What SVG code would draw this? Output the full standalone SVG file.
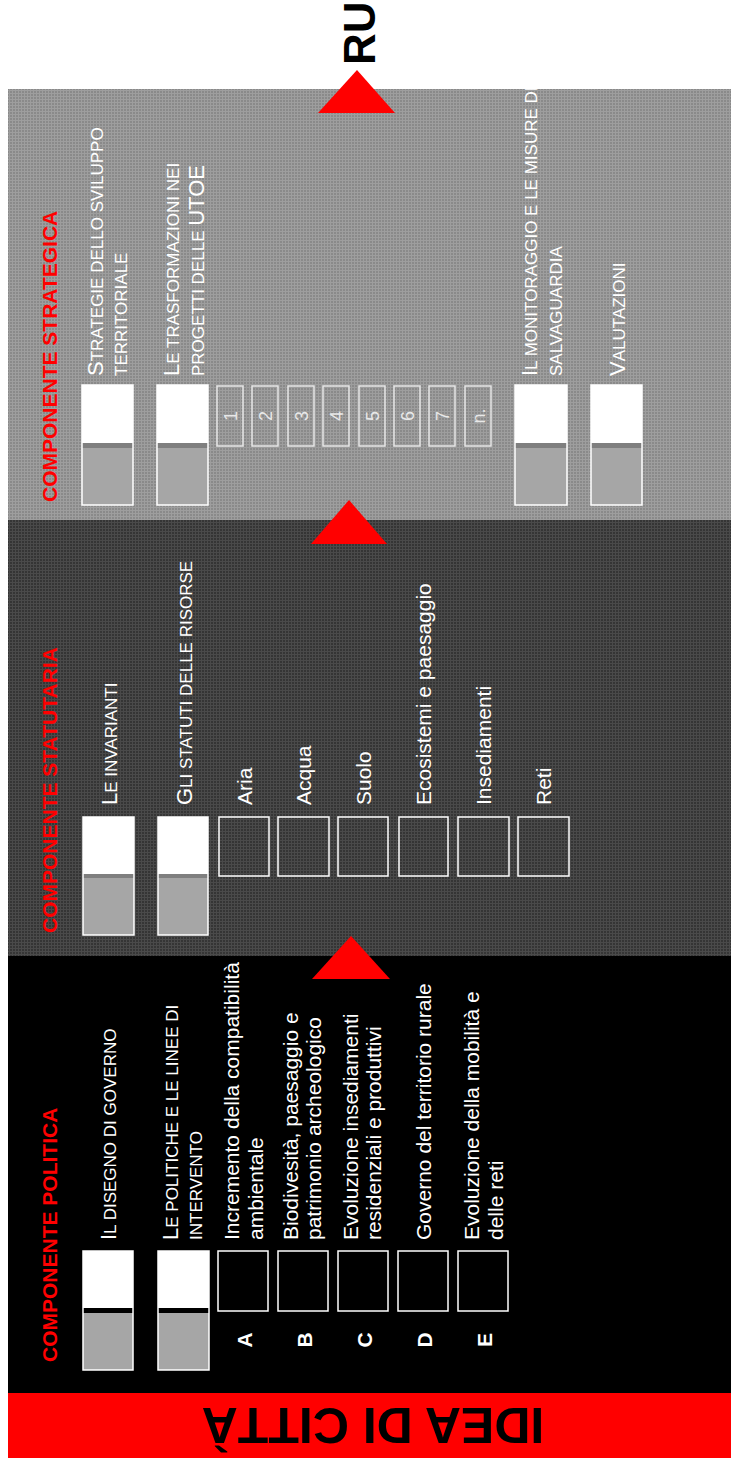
<svg xmlns="http://www.w3.org/2000/svg" width="731" height="1458" viewBox="0 0 731 1458">
<defs>
<pattern id="texL" width="3" height="3" patternUnits="userSpaceOnUse"><rect width="3" height="3" fill="#8a8a8a"/><rect width="3" height="1" fill="#9e9e9e"/><rect width="1" height="3" fill="#9e9e9e"/></pattern>
<pattern id="texD" width="3" height="3" patternUnits="userSpaceOnUse"><rect width="3" height="3" fill="#353535"/><rect width="3" height="1" fill="#4a4a4a"/><rect width="1" height="3" fill="#4a4a4a"/></pattern>
<style>
text{font-family:"Liberation Sans",Arial,sans-serif;fill:#fff}
.title{font-weight:bold;font-size:21px;fill:#ff0000}
.sc{font-size:17px}
.big{font-size:22px}
.item{font-size:21px}
.letter{font-weight:bold;font-size:21px}
.num{font-size:18px;fill:#e8e8e8}
.bw{fill:#fff}
.bg{fill:#a6a6a6}
.frame{fill:none;stroke:#fff;stroke-width:1.5}
.sbox{fill:none;stroke:#fff;stroke-width:1.5}
.nbox{fill:none;stroke:#e6e6e6;stroke-width:1.5}
.arrow{fill:#ff0000}
</style>
</defs>
<rect width="731" height="1458" fill="#fff"/>

<!-- panels -->
<rect id="panel-strategica" x="8" y="89" width="723" height="431" fill="url(#texL)"/>
<rect id="panel-statutaria" x="8" y="520" width="723" height="436" fill="url(#texD)"/>
<rect id="panel-politica" x="8" y="956" width="723" height="437" fill="#000"/>

<g id="idea-di-citta">
<rect x="8" y="1393" width="723" height="65" fill="#ff0000"/>
<text transform="translate(373,1408) rotate(180)" text-anchor="middle" style="font-weight:bold;font-size:50px;fill:#000">IDEA DI CITTÀ</text>
</g>

<g id="ru">
<text transform="translate(375,65) rotate(-90)" style="font-weight:bold;font-size:44px;fill:#000">RU</text>
</g>

<g id="connectors">
<polygon class="arrow" points="357,70 318,113 395,113"/>
<polygon class="arrow" points="349,500 311,544 387,544"/>
<polygon class="arrow" points="351,936 312,979 390,979"/>
</g>

<!-- COMPONENTE STRATEGICA -->
<g id="strategica">
<text class="title" transform="translate(57,502) rotate(-90)">COMPONENTE STRATEGICA</text>
<g id="s-strategie">
<rect class="bg" x="82" y="385" width="51" height="120"/><rect class="bw" x="82" y="385" width="51" height="58"/><rect x="82" y="443" width="51" height="5" fill="#7f7f7f"/><rect class="frame" x="82" y="385" width="51" height="120"/>
<text class="sc" transform="translate(103,376) rotate(-90)"><tspan class="big">S</tspan>TRATEGIE  DELLO SVILUPPO<tspan x="0" dy="24">TERRITORIALE</tspan></text>
</g>
<g id="s-trasformazioni">
<rect class="bg" x="157" y="385" width="51" height="120"/><rect class="bw" x="157" y="385" width="51" height="58"/><rect x="157" y="443" width="51" height="5" fill="#7f7f7f"/><rect class="frame" x="157" y="385" width="51" height="120"/>
<text class="sc" transform="translate(179,376) rotate(-90)"><tspan class="big">L</tspan>E TRASFORMAZIONI NEI<tspan x="0" dy="25">PROGETTI DELLE  </tspan><tspan class="big">UTOE</tspan></text>
</g>
<g id="s-utoe">
<rect class="nbox" x="217" y="386" width="26" height="60"/><text class="num" transform="translate(237,416) rotate(-90)" text-anchor="middle">1</text>
<rect class="nbox" x="252" y="386" width="26" height="60"/><text class="num" transform="translate(272,416) rotate(-90)" text-anchor="middle">2</text>
<rect class="nbox" x="288" y="386" width="26" height="60"/><text class="num" transform="translate(308,416) rotate(-90)" text-anchor="middle">3</text>
<rect class="nbox" x="323" y="386" width="26" height="60"/><text class="num" transform="translate(343,416) rotate(-90)" text-anchor="middle">4</text>
<rect class="nbox" x="359" y="386" width="26" height="60"/><text class="num" transform="translate(379,416) rotate(-90)" text-anchor="middle">5</text>
<rect class="nbox" x="394" y="386" width="26" height="60"/><text class="num" transform="translate(414,416) rotate(-90)" text-anchor="middle">6</text>
<rect class="nbox" x="429" y="386" width="26" height="60"/><text class="num" transform="translate(449,416) rotate(-90)" text-anchor="middle">7</text>
<rect class="nbox" x="465" y="386" width="26" height="60"/><text class="num" transform="translate(485,416) rotate(-90)" text-anchor="middle">n.</text>
</g>
<g id="s-monitoraggio">
<rect class="bg" x="515" y="385" width="52" height="120"/><rect class="bw" x="515" y="385" width="52" height="58"/><rect x="515" y="443" width="52" height="5" fill="#7f7f7f"/><rect class="frame" x="515" y="385" width="52" height="120"/>
<text class="sc" transform="translate(537,376) rotate(-90)"><tspan class="big">I</tspan>L MONITORAGGIO E LE MISURE DI<tspan x="0" dy="25">SALVAGUARDIA</tspan></text>
</g>
<g id="s-valutazioni">
<rect class="bg" x="591" y="385" width="51" height="120"/><rect class="bw" x="591" y="385" width="51" height="58"/><rect x="591" y="443" width="51" height="5" fill="#7f7f7f"/><rect class="frame" x="591" y="385" width="51" height="120"/>
<text class="sc" transform="translate(625,376) rotate(-90)"><tspan class="big">V</tspan>ALUTAZIONI</text>
</g>
</g>

<!-- COMPONENTE STATUTARIA -->
<g id="statutaria">
<text class="title" transform="translate(57,933) rotate(-90)">COMPONENTE STATUTARIA</text>
<g id="t-invarianti">
<rect class="bg" x="83" y="817" width="51" height="118"/><rect class="bw" x="83" y="817" width="51" height="57"/><rect x="83" y="874" width="51" height="4" fill="#7f7f7f"/><rect class="frame" x="83" y="817" width="51" height="118"/>
<text class="sc" transform="translate(117,805) rotate(-90)"><tspan class="big">L</tspan>E INVARIANTI</text>
</g>
<g id="t-statuti">
<rect class="bg" x="158" y="817" width="50" height="118"/><rect class="bw" x="158" y="817" width="50" height="57"/><rect x="158" y="874" width="50" height="4" fill="#7f7f7f"/><rect class="frame" x="158" y="817" width="50" height="118"/>
<text class="sc" transform="translate(192,805) rotate(-90)"><tspan class="big">G</tspan>LI STATUTI DELLE RISORSE</text>
</g>
<g id="t-aria"><rect class="sbox" x="219" y="817" width="50" height="59"/><text class="item" transform="translate(252,805) rotate(-90)">Aria</text></g>
<g id="t-acqua"><rect class="sbox" x="278" y="817" width="51" height="59"/><text class="item" transform="translate(311,805) rotate(-90)">Acqua</text></g>
<g id="t-suolo"><rect class="sbox" x="338" y="817" width="50" height="59"/><text class="item" transform="translate(371,805) rotate(-90)">Suolo</text></g>
<g id="t-ecosistemi"><rect class="sbox" x="399" y="817" width="49" height="59"/><text class="item" transform="translate(431,805) rotate(-90)">Ecosistemi e paesaggio</text></g>
<g id="t-insediamenti"><rect class="sbox" x="458" y="817" width="51" height="59"/><text class="item" transform="translate(491,805) rotate(-90)">Insediamenti</text></g>
<g id="t-reti"><rect class="sbox" x="518" y="817" width="51" height="59"/><text class="item" transform="translate(551,805) rotate(-90)">Reti</text></g>
</g>

<!-- COMPONENTE POLITICA -->
<g id="politica">
<text class="title" transform="translate(57,1362) rotate(-90)">COMPONENTE POLITICA</text>
<g id="p-disegno">
<rect class="bg" x="83" y="1251" width="50" height="119"/><rect class="bw" x="83" y="1251" width="50" height="57"/><rect x="83" y="1308" width="50" height="5" fill="#000"/><rect class="frame" x="83" y="1251" width="50" height="119"/>
<text class="sc" transform="translate(116,1240) rotate(-90)"><tspan class="big">I</tspan>L DISEGNO DI GOVERNO</text>
</g>
<g id="p-politiche">
<rect class="bg" x="158" y="1251" width="51" height="119"/><rect class="bw" x="158" y="1251" width="51" height="57"/><rect x="158" y="1308" width="51" height="5" fill="#000"/><rect class="frame" x="158" y="1251" width="51" height="119"/>
<text class="sc" transform="translate(178,1240) rotate(-90)"><tspan class="big">L</tspan>E POLITICHE E LE LINEE DI<tspan x="0" dy="24">INTERVENTO</tspan></text>
</g>
<g id="p-a"><rect class="sbox" x="218" y="1251" width="50" height="60"/><text class="letter" transform="translate(252,1340) rotate(-90)" text-anchor="middle">A</text><text class="item" transform="translate(239,1240) rotate(-90)">Incremento della compatibilità<tspan x="0" dy="24">ambientale</tspan></text></g>
<g id="p-b"><rect class="sbox" x="278" y="1251" width="50" height="60"/><text class="letter" transform="translate(312,1340) rotate(-90)" text-anchor="middle">B</text><text class="item" transform="translate(298,1240) rotate(-90)">Biodivesità, paesaggio e<tspan x="0" dy="23">patrimonio archeologico</tspan></text></g>
<g id="p-c"><rect class="sbox" x="338" y="1251" width="50" height="60"/><text class="letter" transform="translate(372,1340) rotate(-90)" text-anchor="middle">C</text><text class="item" transform="translate(358,1240) rotate(-90)">Evoluzione insediamenti<tspan x="0" dy="23">residenziali e produttivi</tspan></text></g>
<g id="p-d"><rect class="sbox" x="398" y="1251" width="50" height="60"/><text class="letter" transform="translate(432,1340) rotate(-90)" text-anchor="middle">D</text><text class="item" transform="translate(431,1240) rotate(-90)">Governo del territorio rurale</text></g>
<g id="p-e"><rect class="sbox" x="458" y="1251" width="50" height="60"/><text class="letter" transform="translate(492,1340) rotate(-90)" text-anchor="middle">E</text><text class="item" transform="translate(479,1240) rotate(-90)">Evoluzione della mobilità e<tspan x="0" dy="24">delle reti</tspan></text></g>
</g>
</svg>
